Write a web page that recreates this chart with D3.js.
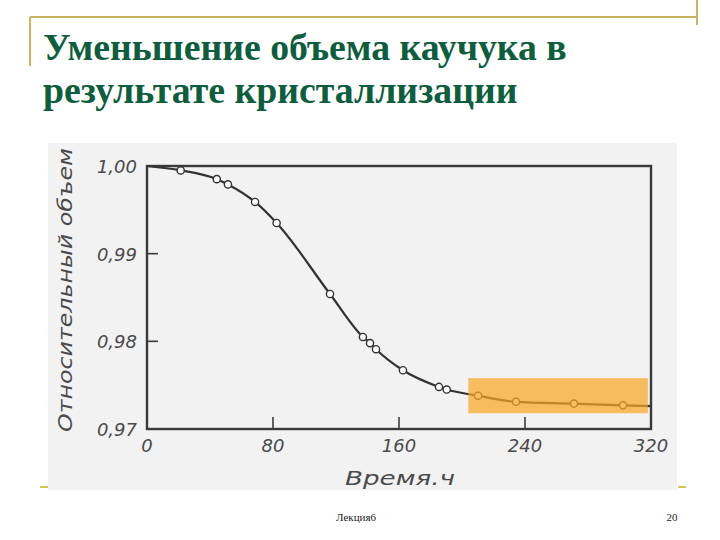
<!DOCTYPE html>
<html><head><meta charset="utf-8">
<script src="https://cdn.jsdelivr.net/npm/d3@7"></script>
<style>html,body{margin:0;padding:0;background:#fff;}svg{display:block;}</style>
</head><body>
<svg id="c" width="720" height="540"></svg>
<script>
// ---- data ----
const times  = [21.4, 44.3, 51.4, 68.6, 82.3, 116.2, 137.1, 141.6, 145.4, 162.5, 185.4, 190.3, 210.2, 234.3, 271.1, 302.2];
const volume = [0.9995, 0.9985, 0.9979, 0.9959, 0.9935, 0.9854, 0.9805, 0.9798, 0.9791, 0.9767, 0.9748, 0.9745, 0.9738, 0.9731, 0.9729, 0.9727];
const curveStart = [0, 1.0000];
const curveEnd = [320, 0.9726];
const xTicks = [0, 80, 160, 240, 320];
const yTicks = [0.97, 0.98, 0.99, 1.00];
const yTickLabels = ["0,97", "0,98", "0,99", "1,00"];
const highlightTimes = [204, 318];
const highlightValues = [0.9718, 0.9758];
const titleLines = ["Уменьшение объема каучука в", "результате кристаллизации"];
const xTitle = "Время.ч";
const yTitle = "Относительный объем";
const footerText = "Лекция6";
const pageNumber = "20";

// ---- drawing ----
const svg = d3.select("#c");
const x = d3.scaleLinear().domain([0, 320]).range([147, 651]);
const y = d3.scaleLinear().domain([0.97, 1.00]).range([429, 166]);
const deco = "#c8b560";

// slide decoration
svg.append("line").attr("x1", 30).attr("x2", 697).attr("y1", 17).attr("y2", 17).attr("stroke", deco).attr("stroke-width", 2);
svg.append("line").attr("x1", 30).attr("x2", 30).attr("y1", 17).attr("y2", 66).attr("stroke", deco).attr("stroke-width", 2);
svg.append("line").attr("x1", 697).attr("x2", 697).attr("y1", 0).attr("y2", 25).attr("stroke", deco).attr("stroke-width", 2);

// title
const tg = svg.append("g");
titleLines.forEach((t, i) => {
  const el = tg.append("text").attr("x", 43).attr("y", 60 + i * 43)
    .attr("font-family", "'Liberation Serif','Times New Roman',serif")
    .attr("font-weight", "bold").attr("font-size", 34).attr("fill", "#0d5e3c").text(t);
  if (i === 0) {
    const w = el.node().getComputedTextLength();
    const fs = 34 * 524 / w;
    tg.selectAll("text").attr("font-size", fs);
  }
});
tg.selectAll("text").attr("font-size", tg.select("text").attr("font-size"));

// scanned image background
svg.append("rect").attr("x", 48).attr("y", 143).attr("width", 629).attr("height", 347).attr("fill", "#f2f2f2");

// bottom dashes
svg.append("line").attr("x1", 40).attr("x2", 48).attr("y1", 487).attr("y2", 487).attr("stroke", "#d6c45a").attr("stroke-width", 2);
svg.append("line").attr("x1", 678).attr("x2", 686).attr("y1", 487).attr("y2", 487).attr("stroke", "#d6c45a").attr("stroke-width", 2);

const ink = "#3a3a3a";
// frame
svg.append("rect").attr("x", x(0)).attr("y", y(1.0)).attr("width", x(320) - x(0)).attr("height", y(0.97) - y(1.0))
  .attr("fill", "none").attr("stroke", ink).attr("stroke-width", 2.4);

// ticks (inward)
const inner = xTicks.filter(d => d > 0 && d < 320);
svg.selectAll(".xt").data(inner).enter().append("line")
  .attr("x1", d => x(d)).attr("x2", d => x(d)).attr("y1", y(0.97)).attr("y2", y(0.97) - 12)
  .attr("stroke", ink).attr("stroke-width", 1.6);
const innerY = yTicks.filter(d => d > 0.97 && d < 1.0);
svg.selectAll(".yt").data(innerY).enter().append("line")
  .attr("x1", x(0)).attr("x2", x(0) + 11).attr("y1", d => y(d)).attr("y2", d => y(d))
  .attr("stroke", ink).attr("stroke-width", 1.6);

const labFont = "'DejaVu Sans','Liberation Sans',sans-serif";
svg.selectAll(".xl").data(xTicks).enter().append("text")
  .attr("x", d => x(d)).attr("y", 452).attr("text-anchor", "middle")
  .attr("font-family", labFont).attr("font-style", "italic").attr("font-size", 18).attr("fill", "#4a4a4a").text(d => d);
svg.selectAll(".yl").data(yTicks).enter().append("text")
  .attr("x", 137).attr("y", d => y(d) + 7).attr("text-anchor", "end")
  .attr("font-family", labFont).attr("font-style", "italic").attr("font-size", 18).attr("fill", "#4a4a4a")
  .text((d, i) => yTickLabels[i]);

// axis titles
svg.append("text").attr("x", 400).attr("y", 485).attr("text-anchor", "middle")
  .attr("font-family", labFont).attr("font-style", "italic").attr("font-size", 19).attr("fill", "#4a4a4a")
  .attr("textLength", 110).attr("lengthAdjust", "spacingAndGlyphs").text(xTitle);
svg.append("text").attr("transform", "translate(72,290) rotate(-90)").attr("text-anchor", "middle")
  .attr("font-family", labFont).attr("font-style", "italic").attr("font-size", 19).attr("fill", "#4a4a4a")
  .attr("textLength", 284).attr("lengthAdjust", "spacingAndGlyphs").text(yTitle);

// curve
const pts = [curveStart].concat(times.map((t, i) => [t, volume[i]])).concat([curveEnd]);
const line = d3.line().x(d => x(d[0])).y(d => y(d[1])).curve(d3.curveMonotoneX);
svg.append("path").attr("d", line(pts)).attr("fill", "none").attr("stroke", "#333").attr("stroke-width", 2.2);
svg.selectAll(".pt").data(times).enter().append("circle")
  .attr("cx", d => x(d)).attr("cy", (d, i) => y(volume[i])).attr("r", 3.6)
  .attr("fill", "#fff").attr("stroke", "#333").attr("stroke-width", 1.4);

// highlight
svg.append("rect").attr("x", x(highlightTimes[0])).attr("y", y(highlightValues[1]))
  .attr("width", x(highlightTimes[1]) - x(highlightTimes[0])).attr("height", y(highlightValues[0]) - y(highlightValues[1]))
  .attr("fill", "#f7a623").attr("opacity", 0.72);

// footer
svg.append("text").attr("x", 356).attr("y", 521).attr("text-anchor", "middle")
  .attr("font-family", "'Liberation Serif',serif").attr("font-size", 11).attr("fill", "#222").text(footerText);
svg.append("text").attr("x", 672).attr("y", 521).attr("text-anchor", "middle")
  .attr("font-family", "'Liberation Serif',serif").attr("font-size", 11).attr("fill", "#222").text(pageNumber);
</script>
</body></html>
